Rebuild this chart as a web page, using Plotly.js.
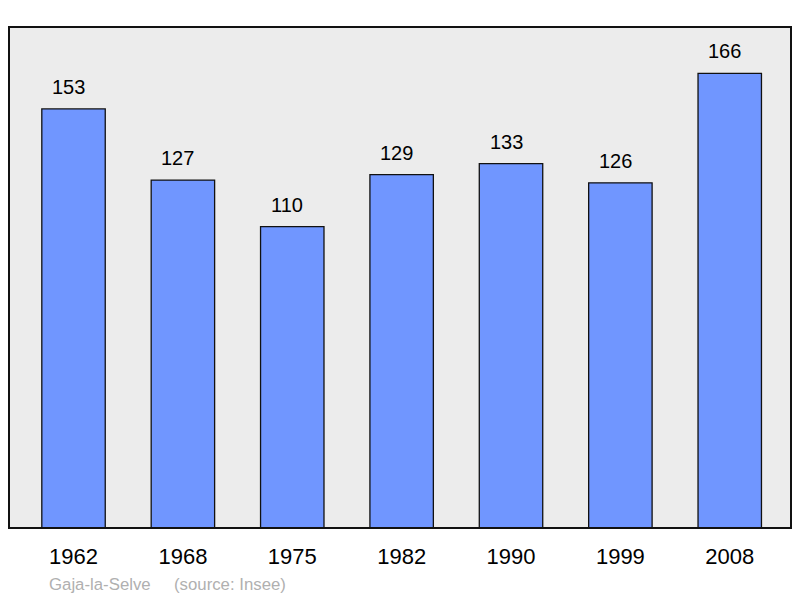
<!DOCTYPE html>
<html><head><meta charset="utf-8">
<script src="https://cdn.plot.ly/plotly-3.0.1.min.js"></script>
<style>html,body{margin:0;padding:0;background:#fff}#c{width:800px;height:598px}</style>
</head><body><div id="c"></div>
<script>
const years = ['1962','1968','1975','1982','1990','1999','2008'];
const population = [153,127,110,129,133,126,166];
const placeName = 'Gaja-la-Selve';
const sourceText = '(source: Insee)';

const font = 'Liberation Sans, Arial, sans-serif';
const trace = {
  type:'bar', x:years, y:population, width:0.58,
  marker:{color:'#7096ff', line:{color:'#111', width:1.3}},
  hoverinfo:'none'
};
const annotations = years.map((y,i)=>({
  x:i, y:population[i], xref:'x', yref:'y', text:String(population[i]),
  showarrow:false, yanchor:'bottom', yshift:9, xshift:-5, font:{family:font,size:20,color:'#000'}
}));
annotations.push({xref:'paper',yref:'paper',x:0.0487,y:-0.112,xanchor:'left',yanchor:'middle',showarrow:false,
  text:placeName,font:{family:font,size:16.8,color:'#b0b0b0'}});
annotations.push({xref:'paper',yref:'paper',x:0.2085,y:-0.112,xanchor:'left',yanchor:'middle',showarrow:false,
  text:sourceText,font:{family:font,size:16.8,color:'#b0b0b0'}});
const layout = {
  width:800,height:598,
  margin:{l:9,r:9,t:27,b:70},
  paper_bgcolor:'#fff', plot_bgcolor:'#ececec',
  showlegend:false,
  xaxis:{type:'category',range:[-0.59,6.56],showgrid:false,zeroline:false,showline:false,
    ticks:'outside',ticklen:0,ticklabelstandoff:9,tickfont:{family:font,size:22,color:'#000'}},
  yaxis:{range:[0,182.9],showgrid:false,zeroline:false,showline:false,showticklabels:false,ticks:''},
  shapes:[{type:'rect',xref:'paper',yref:'paper',x0:0,x1:1,y0:0,y1:1,line:{color:'#111',width:2},layer:'above'}],
  annotations:annotations
};
Plotly.newPlot('c',[trace],layout,{staticPlot:true,displayModeBar:false});
</script></body></html>
